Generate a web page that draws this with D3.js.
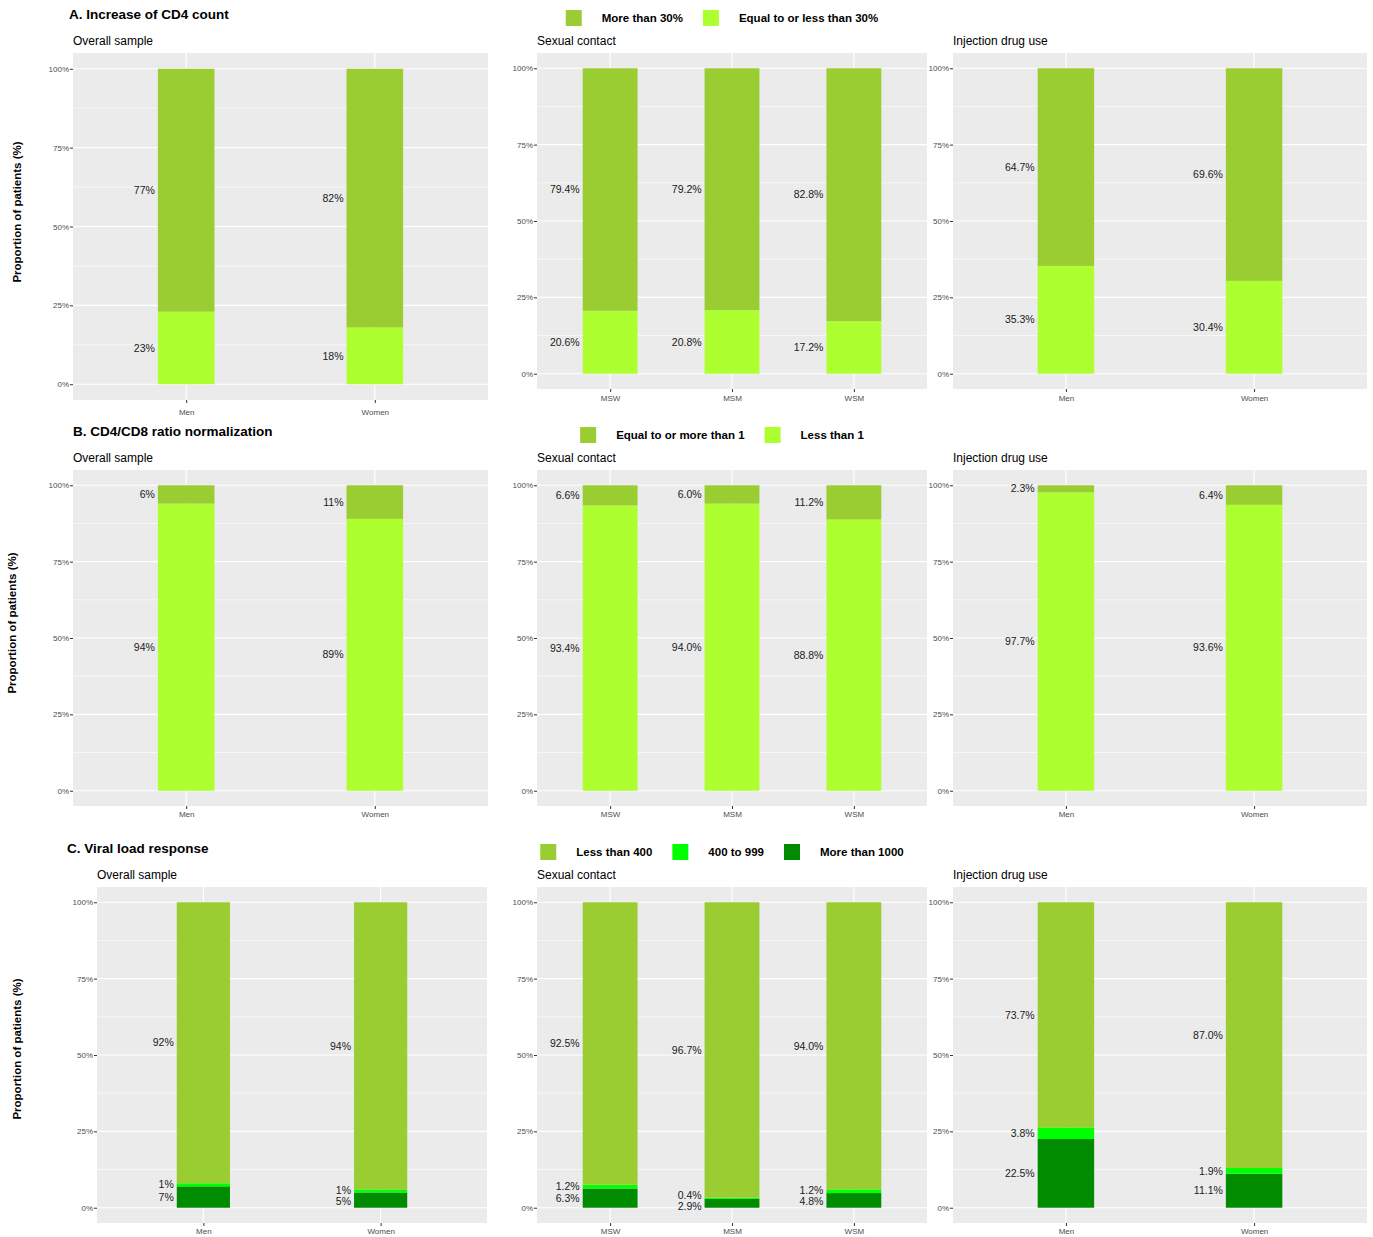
<!DOCTYPE html>
<html>
<head>
<meta charset="utf-8">
<script src="https://cdn.jsdelivr.net/npm/d3@7"></script>
<style>
body { margin: 0; background: #fff; }
text { font-family: "Liberation Sans", Arial, Helvetica, sans-serif; }
</style>
</head>
<body>
<div id="chart"></div>
<script>
// categories
var overallCats = ["Men", "Women"];
var sexualCats = ["MSW", "MSM", "WSM"];
var iduCats = ["Men", "Women"];
var panelTitles = ["Overall sample", "Sexual contact", "Injection drug use"];

// A. CD4 increase (per category: [top series, bottom series])
var cd4Keys = ["More than 30%", "Equal to or less than 30%"];
var cd4Colors = ["#9ACD32", "#ADFF2F"];
var cd4Overall = [[77, 23], [82, 18]];
var cd4Sexual = [[79.4, 20.6], [79.2, 20.8], [82.8, 17.2]];
var cd4Idu = [[64.7, 35.3], [69.6, 30.4]];

// B. CD4/CD8 ratio
var ratioKeys = ["Equal to or more than 1", "Less than 1"];
var ratioColors = ["#9ACD32", "#ADFF2F"];
var ratioOverall = [[6, 94], [11, 89]];
var ratioSexual = [[6.6, 93.4], [6.0, 94.0], [11.2, 88.8]];
var ratioIdu = [[2.3, 97.7], [6.4, 93.6]];

// C. viral load
var vlKeys = ["Less than 400", "400 to 999", "More than 1000"];
var vlColors = ["#9ACD32", "#00FF00", "#008B00"];
var vlOverall = [[92, 1, 7], [94, 1, 5]];
var vlSexual = [[92.5, 1.2, 6.3], [96.7, 0.4, 2.9], [94.0, 1.2, 4.8]];
var vlIdu = [[73.7, 3.8, 22.5], [87.0, 1.9, 11.1]];

var yTicks = [0, 25, 50, 75, 100];
var yMinor = [12.5, 37.5, 62.5, 87.5];

var rows = [
	{title: "A. Increase of CD4 count", keys: cd4Keys, colors: cd4Colors, panels: [cd4Overall, cd4Sexual, cd4Idu]},
	{title: "B. CD4/CD8 ratio normalization", keys: ratioKeys, colors: ratioColors, panels: [ratioOverall, ratioSexual, ratioIdu]},
	{title: "C. Viral load response", keys: vlKeys, colors: vlColors, panels: [vlOverall, vlSexual, vlIdu]}
];
var panelCats = [overallCats, sexualCats, iduCats];
var panelDecimals = [0, 1, 1];
var panelBarWidth = [0.3, 0.45, 0.3];

// layout of the composite figure
var rowLayout = [
	{titleX: 69, titleY: 19, legendY: 10, yTitle: [17, 212],
	 boxes: [[73, 488, 53, 400], [537, 927, 53, 389], [953, 1367, 53, 389]], xlab: [15, 12, 12]},
	{titleX: 73, titleY: 436, legendY: 427, yTitle: [12, 623],
	 boxes: [[73, 488, 470, 806], [537, 927, 470, 806], [953, 1367, 470, 806]], xlab: [11, 11, 11]},
	{titleX: 67, titleY: 853, legendY: 844, yTitle: [17, 1049],
	 boxes: [[97, 487, 887, 1223], [537, 927, 887, 1223], [953, 1367, 887, 1223]], xlab: [11, 11, 11]}
];
var legendCenter = 722;

var svg = d3.select("#chart").append("svg")
	.attr("width", 1373)
	.attr("height", 1237);

function drawLegend(row, lay) {
	var g = svg.append("g");
	var x = 0;
	row.keys.forEach(function(k, i) {
		g.append("rect")
			.attr("x", x).attr("y", lay.legendY)
			.attr("width", 16).attr("height", 16)
			.attr("fill", row.colors[i]);
		var t = g.append("text")
			.attr("x", x + 36).attr("y", lay.legendY + 12)
			.style("font-size", "11.5px").style("font-weight", "bold")
			.attr("fill", "#000")
			.text(k);
		x += 36 + t.node().getComputedTextLength() + 20;
	});
	var w = x - 20;
	g.attr("transform", "translate(" + (legendCenter - w / 2) + ",0)");
}

function drawPanel(row, lay, p) {
	var box = lay.boxes[p];
	var cats = panelCats[p];
	var values = row.panels[p];
	var dec = panelDecimals[p];

	var x = d3.scalePoint().domain(cats).range([box[0], box[1]]).padding(0.6);
	var y = d3.scaleLinear().domain([-5, 105]).range([box[3], box[2]]);
	var bw = panelBarWidth[p] * x.step();

	var g = svg.append("g");

	g.append("text")
		.attr("x", box[0]).attr("y", box[2] - 8)
		.style("font-size", "12px").attr("fill", "#000")
		.text(panelTitles[p]);

	g.append("rect")
		.attr("x", box[0]).attr("y", box[2])
		.attr("width", box[1] - box[0]).attr("height", box[3] - box[2])
		.attr("fill", "#EBEBEB");

	g.selectAll(".minor").data(yMinor).enter().append("line")
		.attr("x1", box[0]).attr("x2", box[1])
		.attr("y1", function(d) { return y(d); }).attr("y2", function(d) { return y(d); })
		.attr("stroke", "#fff").attr("stroke-width", 0.6);
	g.selectAll(".major").data(yTicks).enter().append("line")
		.attr("x1", box[0]).attr("x2", box[1])
		.attr("y1", function(d) { return y(d); }).attr("y2", function(d) { return y(d); })
		.attr("stroke", "#fff").attr("stroke-width", 1.2);
	g.selectAll(".vmajor").data(cats).enter().append("line")
		.attr("x1", function(d) { return x(d); }).attr("x2", function(d) { return x(d); })
		.attr("y1", box[2]).attr("y2", box[3])
		.attr("stroke", "#fff").attr("stroke-width", 1.2);

	// stacked bars, first series on top
	var n = row.keys.length;
	cats.forEach(function(c, ci) {
		var v = values[ci];
		var cum = 0, labels = [];
		for (var i = n - 1; i >= 0; i--) {
			var y0 = cum, y1 = cum + v[i];
			g.append("rect")
				.attr("x", x(c) - bw / 2).attr("width", bw)
				.attr("y", y(y1)).attr("height", y(y0) - y(y1))
				.attr("fill", row.colors[i]);
			labels.push({text: v[i].toFixed(dec) + "%", py: y((y0 + y1) / 2)});
			cum = y1;
		}
		// keep close labels apart
		labels.sort(function(a, b) { return a.py - b.py; });
		for (var iter = 0; iter < 10; iter++) {
			for (var j = 1; j < labels.length; j++) {
				var gap = labels[j].py - labels[j - 1].py;
				if (gap < 11) {
					var push = (11 - gap) / 2;
					labels[j].py += push;
					labels[j - 1].py -= push;
				}
			}
		}
		labels.forEach(function(l) {
			g.append("text")
				.attr("x", x(c) - bw / 2 - 3).attr("y", l.py)
				.attr("dy", "0.35em")
				.attr("text-anchor", "end")
				.style("font-size", "10.5px").attr("fill", "#1a1a1a")
				.text(l.text);
		});
	});

	var yAxis = g.append("g")
		.attr("transform", "translate(" + box[0] + ",0)")
		.call(d3.axisLeft(y).tickValues(yTicks).tickSize(3).tickPadding(1)
			.tickFormat(function(d) { return d + "%"; }));
	var xAxis = g.append("g")
		.attr("transform", "translate(0," + box[3] + ")")
		.call(d3.axisBottom(x).tickSize(3).tickPadding(2));
	[yAxis, xAxis].forEach(function(a) {
		a.select(".domain").remove();
		a.selectAll("line").attr("stroke", "#333").attr("stroke-width", 1);
		a.selectAll("text").attr("fill", "#4D4D4D").style("font-size", "8px")
			.style("font-family", "'Liberation Sans', Arial, Helvetica, sans-serif");
	});
	xAxis.selectAll("text").attr("y", lay.xlab[p]).attr("dy", "0");
}

rows.forEach(function(row, r) {
	var lay = rowLayout[r];
	svg.append("text")
		.attr("x", lay.titleX).attr("y", lay.titleY)
		.style("font-size", "13.5px").style("font-weight", "bold")
		.attr("fill", "#000")
		.text(row.title);

	svg.append("text")
		.attr("transform", "translate(" + lay.yTitle[0] + "," + lay.yTitle[1] + ") rotate(-90)")
		.attr("text-anchor", "middle").attr("dy", "0.35em")
		.style("font-size", "11.5px").style("font-weight", "bold")
		.attr("fill", "#000")
		.text("Proportion of patients (%)");

	drawLegend(row, lay);
	for (var p = 0; p < 3; p++) drawPanel(row, lay, p);
});
</script>
</body>
</html>
